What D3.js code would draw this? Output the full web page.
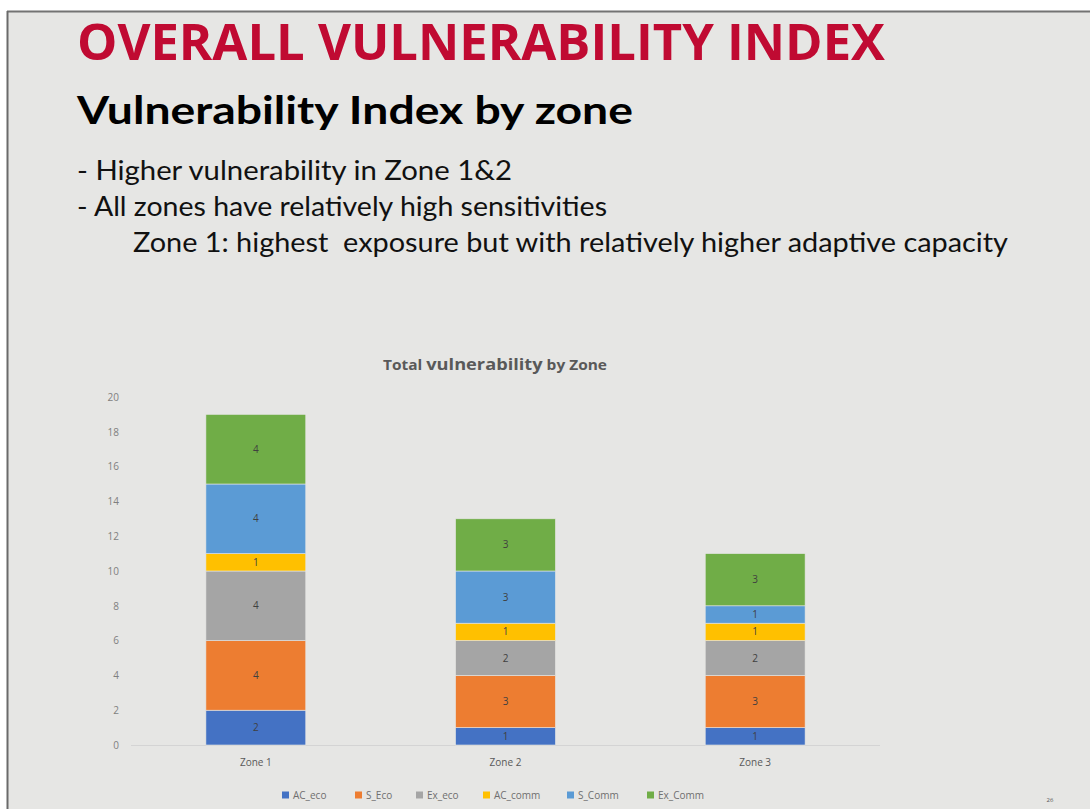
<!DOCTYPE html>
<html>
<head>
<meta charset="utf-8">
<script src="https://cdn.jsdelivr.net/npm/d3@7"></script>
<style>
  html, body { margin: 0; padding: 0; background: #ffffff; }
  svg { display: block; }
</style>
</head>
<body>
<svg id="slide" width="1090" height="809"></svg>
<script>
// Categories and stacked series
const zones = ["Zone 1", "Zone 2", "Zone 3"];
const seriesNames = ["AC_eco", "S_Eco", "Ex_eco", "AC_comm", "S_Comm", "Ex_Comm"];
const AC_eco  = [2, 1, 1];
const S_Eco   = [4, 3, 3];
const Ex_eco  = [4, 2, 2];
const AC_comm = [1, 1, 1];
const S_Comm  = [4, 3, 1];
const Ex_Comm = [4, 3, 3];
const yTicks = [0, 2, 4, 6, 8, 10, 12, 14, 16, 18, 20];
const seriesColors = ["#4472c4", "#ed7d31", "#a5a5a5", "#ffc000", "#5b9bd5", "#70ad47"];

const seriesValues = [AC_eco, S_Eco, Ex_eco, AC_comm, S_Comm, Ex_Comm];
const rows = zones.map((z, i) => {
  const r = { zone: z };
  seriesNames.forEach((s, k) => { r[s] = seriesValues[k][i]; });
  return r;
});

const svg = d3.select("#slide");

// Slide panel with its frame
svg.append("rect").attr("x", 8).attr("y", 12).attr("width", 1090).attr("height", 800)
  .attr("fill", "#e6e6e4");
svg.append("line").attr("x1", 7).attr("x2", 1090).attr("y1", 11.5).attr("y2", 11.5)
  .attr("stroke", "#737373").attr("stroke-width", 2);
svg.append("line").attr("x1", 7.5).attr("x2", 7.5).attr("y1", 11).attr("y2", 809)
  .attr("stroke", "#6a6a6a").attr("stroke-width", 2);

// Slide headings
svg.append("text").attr("x", 77).attr("y", 60)
  .attr("font-family", "'Liberation Sans Narrow', 'Open Sans', sans-serif")
  .attr("font-weight", "bold").attr("font-size", 50).attr("fill", "#c00a32")
  .attr("textLength", 808).attr("lengthAdjust", "spacingAndGlyphs")
  .text("OVERALL VULNERABILITY INDEX");

svg.append("text").attr("x", 77).attr("y", 124)
  .attr("font-family", "Lato, 'Open Sans', sans-serif")
  .attr("font-weight", "bold").attr("font-size", 39).attr("fill", "#000000")
  .attr("textLength", 556).attr("lengthAdjust", "spacingAndGlyphs")
  .text("Vulnerability Index by zone");

const bullets = [
  { x: 77, y: 180, w: 435, t: "- Higher vulnerability in Zone 1&2" },
  { x: 77, y: 216, w: 530, t: "- All zones have relatively high sensitivities" },
  { x: 133, y: 252, w: 875, t: "Zone 1: highest  exposure but with relatively higher adaptive capacity" }
];
svg.selectAll("text.bullet").data(bullets).join("text")
  .attr("class", "bullet")
  .attr("x", d => d.x).attr("y", d => d.y)
  .attr("font-family", "Lato, 'Open Sans', sans-serif")
  .attr("font-size", 26).attr("fill", "#111111")
  .attr("textLength", d => d.w).attr("lengthAdjust", "spacingAndGlyphs")
  .attr("xml:space", "preserve")
  .text(d => d.t);

// Chart title
const ct = svg.append("text").attr("x", 383).attr("y", 370)
  .attr("font-family", "'Open Sans', 'Noto Sans', sans-serif")
  .attr("font-weight", "bold").attr("fill", "#595959")
  .attr("textLength", 224).attr("lengthAdjust", "spacingAndGlyphs");
ct.append("tspan").attr("font-size", 14).text("Total ");
ct.append("tspan").attr("font-size", 16.5).text("vulnerability");
ct.append("tspan").attr("font-size", 14).text(" by Zone");

// Scales
const x = d3.scaleBand().domain(zones).range([131, 880]).paddingInner(0.6).paddingOuter(0.3);
const y = d3.scaleLinear().domain([0, 20]).range([745, 397]);

// Y axis labels
const yAxis = svg.append("g").attr("transform", "translate(119,0)")
  .call(d3.axisLeft(y).tickValues(yTicks).tickSize(0).tickPadding(0));
yAxis.select(".domain").remove();
yAxis.selectAll("text").attr("font-family", "'Open Sans', sans-serif")
  .attr("font-size", 10).attr("fill", "#7f7f7f");

// Baseline
svg.append("line").attr("x1", 131).attr("x2", 880).attr("y1", y(0) + 0.5).attr("y2", y(0) + 0.5)
  .attr("stroke", "#d4d4d4").attr("stroke-width", 1);

// X axis labels
const xAxis = svg.append("g").attr("transform", `translate(0,${y(0)})`)
  .call(d3.axisBottom(x).tickSize(0).tickPadding(14));
xAxis.select(".domain").remove();
xAxis.selectAll("text").attr("font-family", "'Open Sans', sans-serif")
  .attr("font-size", 10).attr("fill", "#595959");

// Stacked bars
const stacked = d3.stack().keys(seriesNames)(rows);
const color = d3.scaleOrdinal().domain(seriesNames).range(seriesColors);

const layers = svg.append("g").selectAll("g").data(stacked).join("g")
  .attr("fill", d => color(d.key));
layers.selectAll("rect").data(d => d).join("rect")
  .attr("x", d => x(d.data.zone))
  .attr("width", x.bandwidth())
  .attr("y", d => y(d[1]))
  .attr("height", d => y(d[0]) - y(d[1]))
  .attr("stroke", "#e6e6e4").attr("stroke-width", 0.6);

// Segment value labels
const labels = svg.append("g");
stacked.forEach(layer => {
  layer.forEach(d => {
    labels.append("text")
      .attr("x", x(d.data.zone) + x.bandwidth() / 2)
      .attr("y", (y(d[0]) + y(d[1])) / 2)
      .attr("dy", "0.35em")
      .attr("text-anchor", "middle")
      .attr("font-family", "'Open Sans', sans-serif")
      .attr("font-size", 10).attr("fill", "#404040")
      .text(d[1] - d[0]);
  });
});

// Legend
const legendX = [282, 355, 416, 483, 567, 647];
const legend = svg.append("g").selectAll("g").data(seriesNames).join("g")
  .attr("transform", (d, i) => `translate(${legendX[i]},795)`);
legend.append("rect").attr("x", 0).attr("y", -3.5).attr("width", 7).attr("height", 7)
  .attr("fill", d => color(d));
legend.append("text").attr("x", 11).attr("y", 0).attr("dy", "0.35em")
  .attr("font-family", "'Open Sans', sans-serif")
  .attr("font-size", 10).attr("fill", "#6f6f6f")
  .text(d => d);

// Page number
svg.append("text").attr("x", 1050).attr("y", 802).attr("text-anchor", "middle")
  .attr("font-family", "'Open Sans', sans-serif").attr("font-size", 6).attr("fill", "#555")
  .text("26");
</script>
</body>
</html>
